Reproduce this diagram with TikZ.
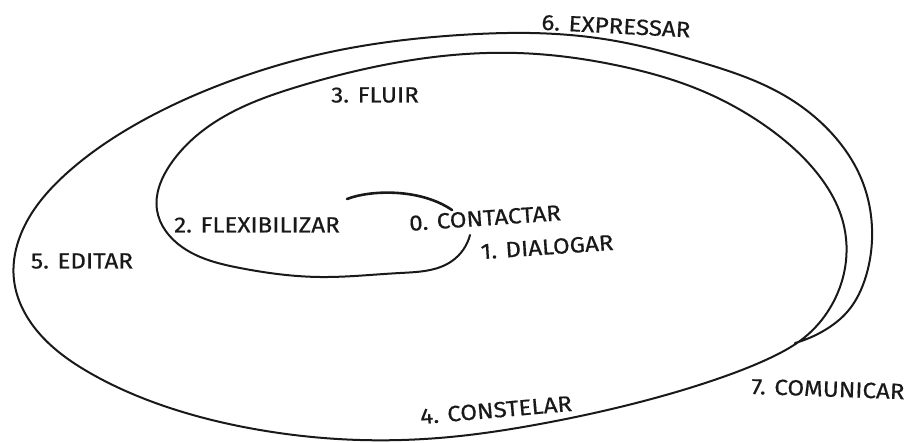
\documentclass[tikz,border=0pt]{standalone}
\usepackage{fontspec}
\setmainfont{Fira Sans}
\newfontfamily\lblfont{Fira Sans}[FakeBold=0.5, FakeStretch=1.1]
\usetikzlibrary{hobby}
\begin{document}
\begin{tikzpicture}[x=1pt,y=-1pt,
  spiralline/.style={line width=2pt, line cap=round, line join=round, black!90},
  lbl/.style={font=\lblfont\fontsize{22}{22}\selectfont, inner sep=0pt, anchor=center, text=black!90}]
\useasboundingbox (0,0) rectangle (910,442);
% inner stub
\draw[spiralline, line width=2.6pt] (347,199) .. controls (370,190) and (420,188) .. (452,210);
% main spiral
\draw[spiralline, use Hobby shortcut] (470,235) .. (452,261) .. (400,273) .. (320,277)
 .. (240,268) .. (182,247) .. (157,210) .. (170,165) .. (215,122) .. (300,86)
 .. (400,62) .. (517,53) .. (620,66) .. (700,90) .. (767,127) .. (817,173)
 .. (843,222) .. (845,268) .. (830,308) .. (805,337) .. (770,358) .. (720,378) .. (640,402) .. (540,424)
 .. (450,437) .. (360,440) .. (260,430) .. (167,407) .. (90,373) .. (38,332)
 .. (14,280) .. (25,225) .. (67,173) .. (140,122) .. (233,80) .. (340,50)
 .. (460,35) .. (530,33) .. (610,40) .. (700,62) .. (780,93) .. (835,137)
 .. (863,183) .. (872,228) .. (866,276) .. (848,311) .. (825,330) .. (795,343);
% labels
\node[lbl, rotate=4]  (l0) at (485,218) {0. CONTACTAR};
\node[lbl, rotate=4]  (l1) at (547,247) {1. DIALOGAR};
\node[lbl]            (l2) at (257,225) {2. FLEXIBILIZAR};
\node[lbl]            (l3) at (375,95)  {3. FLUIR};
\node[lbl, rotate=5]  (l4) at (496,410) {4. CONSTELAR};
\node[lbl]            (l5) at (82,261)  {5. EDITAR};
\node[lbl, rotate=-3] (l6) at (616,26)  {6. EXPRESSAR};
\node[lbl, rotate=-2] (l7) at (828,389) {7. COMUNICAR};
\end{tikzpicture}
\end{document}
